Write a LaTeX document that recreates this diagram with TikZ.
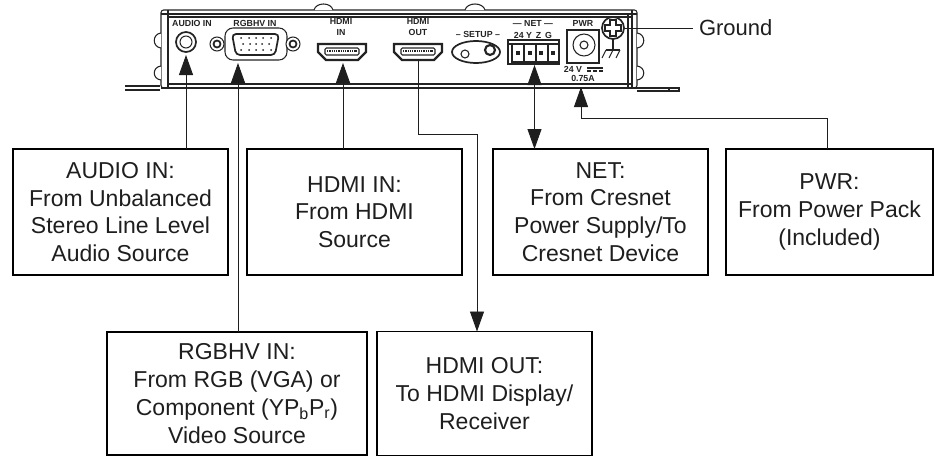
\documentclass[tikz,border=0pt]{standalone}
\usepackage{fontspec}
\setmainfont{Liberation Sans}
\usetikzlibrary{positioning, arrows.meta}
\definecolor{linecol}{RGB}{30,30,30}
\definecolor{devcol}{RGB}{35,35,35}

\begin{document}
\begin{tikzpicture}[
    x=0.75pt, y=-0.75pt,
    infobox/.style={rectangle, draw=black, line width=1.1pt, align=center, inner sep=0pt, outer sep=0pt,
        minimum width=161.25pt, minimum height=94.5pt, text=linecol,
        font=\fontsize{17.25pt}{20.8pt}\selectfont},
    devlabel/.style={inner sep=0pt, align=center, text=devcol,
        font=\fontsize{6.6pt}{7.6pt}\selectfont\bfseries},
    conn/.style={draw=linecol, line width=0.7pt},
    arrowconn/.style={conn, -{Triangle[length=15pt,width=10.5pt]}},
    bothconn/.style={conn, {Triangle[length=15pt,width=10.5pt]}-{Triangle[length=15pt,width=10.5pt]}},
    devline/.style={draw=devcol, line width=0.8pt},
    devthick/.style={draw=devcol, line width=1.3pt},
    portnode/.style={inner sep=0pt, outer sep=0pt}
]
\useasboundingbox (0,0) rectangle (939,457);

% device body
\draw[devline, rounded corners=2pt] (161,88) -- (161,10) -- (637,10) -- (637,88) -- cycle;
\draw[devline] (161,14) -- (637,14);
\draw[devline] (168,17) -- (632,17);
\draw[devline] (168,10) -- (168,88);
\draw[devline] (632,10) -- (632,88);
\draw[devline] (628,14) -- (628,88);
\draw[devthick] (168,84) -- (632,84);
\draw[devline] (161,88) -- (637,88);

% flanges
\draw[devline] (125,86) -- (160,86);
\draw[devline] (125,90) -- (160,90);
\draw[devline] (637,88) -- (679,88) -- (679,91) -- (637,91);
\draw[devline] (669,88) -- (669,91);

% bumps
\draw[devline, fill=white] (161,33) .. controls (152,34) and (152,47) .. (161,48);
\draw[devline, fill=white] (161,66) .. controls (152,67) and (152,79) .. (161,80);
\draw[devline, fill=white] (637,33) .. controls (646,34) and (646,47) .. (637,48);
\draw[devline, fill=white] (637,66) .. controls (646,67) and (646,79) .. (637,80);
\draw[devline, fill=white] (314,10) .. controls (316,2) and (331,2) .. (333,10);
\draw[devline, fill=white] (465,10) .. controls (467,2) and (483,2) .. (485,10);

% port labels
\node[devlabel] (audio_label) at (192,23) {AUDIO IN};
\node[devlabel] (vga_label) at (255,23) {RGBHV IN};
\node[devlabel] (hdmiin_label) at (341,27) {HDMI\\IN};
\node[devlabel] (hdmiout_label) at (418,27) {HDMI\\OUT};
\node[devlabel] (setup_label) at (478,34) {-- SETUP --};
\node[devlabel] (net_label) at (533,23) {--- NET ---};
\node[devlabel] (netpins_label) at (533,35) {24 Y\, Z\, G};
\node[devlabel] (pwr_label) at (583,23) {PWR};
\node[devlabel] (volt_label) at (573,69) {24 V};
\node[devlabel] (amp_label) at (583,78) {0.75A};

% audio jack
\node[portnode, circle, devthick, minimum size=15pt] (audio_port) at (186,42) {};
\draw[devline] (186,42) circle[radius=6];

% rgbhv connector
\node[portnode, rectangle, rounded corners=6pt, devline, minimum width=46.5pt, minimum height=24pt] (vga_port) at (256,44) {};
\draw[devthick, rounded corners=3pt] (232,34) -- (279,34) -- (275,55) -- (236,55) -- cycle;
\draw[devline, fill=white] (217,44) circle[radius=7];
\draw[devline, fill=white] (293,44) circle[radius=7];
\draw[devthick] (217,44) circle[radius=3.5];
\draw[devthick] (293,44) circle[radius=3.5];
\fill[devcol] (241,38) circle[radius=1] (249,38) circle[radius=1] (256,38) circle[radius=1] (263,38) circle[radius=1] (271,38) circle[radius=1];
\fill[devcol] (243,44) circle[radius=1] (250,44) circle[radius=1] (256,44) circle[radius=1] (262,44) circle[radius=1] (269,44) circle[radius=1];
\fill[devcol] (241,50) circle[radius=1] (249,50) circle[radius=1] (256,50) circle[radius=1] (263,50) circle[radius=1] (271,50) circle[radius=1];

% hdmi in
\node[portnode, minimum width=37.5pt, minimum height=13.5pt] (hdmiin_port) at (342,52) {};
\draw[devthick, line width=1.8pt, shift={(342,52)}] (-24,-8) -- (24,-8) -- (24,0) -- (16,8) -- (-16,8) -- (-24,0) -- cycle;
\draw[devline, shift={(342,52)}, rounded corners=1pt] (-17,-4) rectangle (17,3);
\draw[devcol, line width=2pt, dash pattern=on 1pt off 0.7pt, shift={(342,52)}] (-15,-1) -- (15,-1);

% hdmi out
\node[portnode, minimum width=37.5pt, minimum height=13.5pt] (hdmiout_port) at (418,52) {};
\draw[devthick, line width=1.8pt, shift={(418,52)}] (-24,-8) -- (24,-8) -- (24,0) -- (16,8) -- (-16,8) -- (-24,0) -- cycle;
\draw[devline, shift={(418,52)}, rounded corners=1pt] (-17,-4) rectangle (17,3);
\draw[devcol, line width=2pt, dash pattern=on 1pt off 0.7pt, shift={(418,52)}] (-15,-1) -- (15,-1);

% setup
\draw[devthick] (476,52) ellipse[x radius=24, y radius=11];
\draw[devline] (465,54) circle[radius=4];
\draw[devthick, line width=1.6pt] (490,50) circle[radius=5];

% net connector
\node[portnode, rectangle, devthick, minimum width=38.25pt, minimum height=18pt] (net_port) at (533.5,52) {};
\draw[devline] (508,44) -- (559,44);
\draw[devline] (512,44) rectangle (524,62);
\draw[devline] (524,44) rectangle (536,62);
\draw[devline] (536,44) rectangle (548,62);
\draw[devline] (548,44) rectangle (559,62);
\fill[devcol] (516,51) rectangle (520,55);
\fill[devcol] (528,51) rectangle (532,55);
\fill[devcol] (539,51) rectangle (543,55);
\fill[devcol] (551,51) rectangle (555,55);

% power jack
\node[portnode, rectangle, devthick, minimum width=24pt, minimum height=24.75pt] (pwr_port) at (583,46.5) {};
\draw[devline] (584,45) circle[radius=11];
\draw[devline] (584,45) circle[radius=4];
\draw[devline] (587,68) -- (603,68);
\draw[devline, dash pattern=on 3pt off 1.5pt] (587,71) -- (603,71);

% ground screw
\node[portnode, circle, devthick, minimum size=16.5pt] (gnd_port) at (613,28) {};
\draw[devline] (610,20) -- (616,20) -- (616,25) -- (621,25) -- (621,31) -- (616,31) -- (616,36) -- (610,36) -- (610,31) -- (605,31) -- (605,25) -- (610,25) -- cycle;
\draw[devline] (gnd_port.south) -- (613,50);
\draw[devline] (606,50) -- (620,50);
\draw[devline] (606,50) -- (602,58);
\draw[devline] (613,50) -- (609,58);
\draw[devline] (620,50) -- (616,58);

% info boxes
\node[infobox] (audio_box) at (120.5,212) {AUDIO IN:\\From Unbalanced\\Stereo Line Level\\Audio Source};
\node[infobox, right=14.25pt of audio_box] (hdmiin_box) {HDMI IN:\\From HDMI\\Source};
\node[infobox, right=23.25pt of hdmiin_box] (net_box) {NET:\\From Cresnet\\Power Supply/To\\Cresnet Device};
\node[infobox, minimum width=155.25pt, right=13.5pt of net_box] (pwr_box) {PWR:\\From Power Pack\\(Included)};
\node[infobox, minimum width=195pt, minimum height=92.25pt] (rgbhv_box) at (237,393.5) {RGBHV IN:\\From RGB (VGA) or\\Component (YP\textsubscript{b}P\textsubscript{r})\\Video Source};
\node[infobox, minimum height=93pt, right=7.5pt of rgbhv_box] (hdmiout_box) {HDMI OUT:\\To HDMI Display/\\Receiver};
\node[inner sep=4.5pt, outer sep=0pt, anchor=west, text=linecol, font=\fontsize{16.5pt}{20pt}\selectfont] (ground_label) at (693,28) {Ground};

% arrow ends
\coordinate (audio_tip) at (186,55);
\coordinate (vga_tip) at (238,63);
\coordinate (hdmiin_tip) at (343,63);
\coordinate (net_tip) at (534.5,65);
\coordinate (hdmiout_bend) at (477,134);
\coordinate (pwr_tip) at (581,87);
\coordinate (pwr_bend) at (827,118);

% connectors
\draw[arrowconn] (audio_box.north -| audio_tip) -- (audio_tip);
\draw[arrowconn] (rgbhv_box.north -| vga_tip) -- (vga_tip);
\draw[arrowconn] (hdmiin_box.north -| hdmiin_tip) -- (hdmiin_tip);
\draw[arrowconn] (hdmiout_port.south) |- (hdmiout_bend) -- (hdmiout_box.north -| hdmiout_bend);
\draw[bothconn] (net_box.north -| net_tip) -- (net_tip);
\draw[arrowconn] (pwr_box.north -| pwr_bend) -- (pwr_bend) -| (pwr_tip);
\draw[conn] (gnd_port.east) -- (ground_label.west);

\end{tikzpicture}
\end{document}
